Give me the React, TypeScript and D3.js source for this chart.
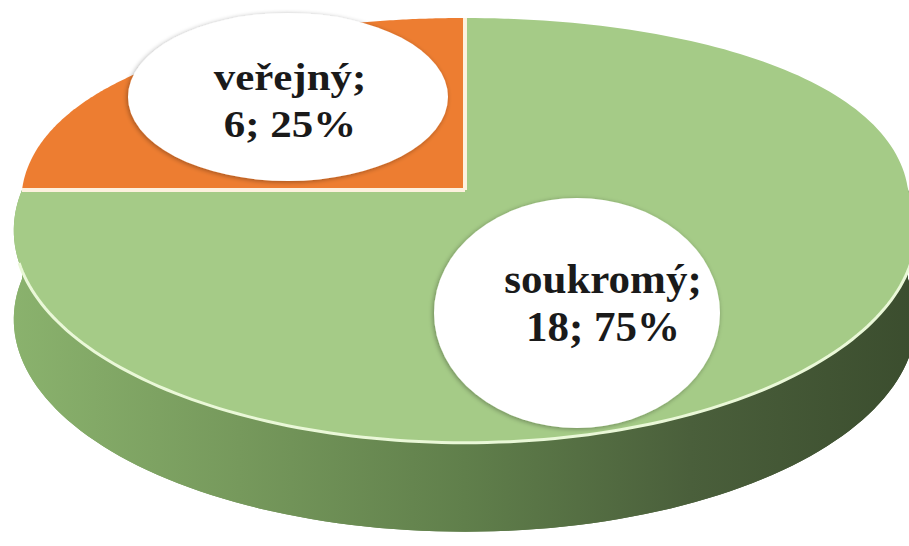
import React from "react";
import * as d3 from "d3";

const categories = ["soukromý", "veřejný"];
const values = [18, 6];
const sliceColors = ["#a5cb87", "#ed7d31"];

const W = 909;
const H = 546;
const CX = 465;
const CY = 190;
const A = 443;
const B = 204.7;
const KY = 0.19;
const KX_BACK = 0.06;
const KX_FRONT = 0.19;
const DEPTH = 89;

function proj(a: number, r = 1): [number, number] {
  const u = Math.sin(a) * r;
  const v = Math.cos(a) * r;
  const kx = v >= 0 ? KX_BACK : KX_FRONT;
  const x = CX + (A * u) / (1 + kx * v);
  const y = CY - (B * v) / (1 + KY * v);
  return [x, y];
}

function arcPts(a0: number, a1: number, dy = 0, n = 120): [number, number][] {
  const pts: [number, number][] = [];
  for (let i = 0; i <= n; i++) {
    const a = a0 + ((a1 - a0) * i) / n;
    const [x, y] = proj(a);
    pts.push([x, y + dy]);
  }
  return pts;
}

export default function App() {
  const pie = d3
    .pie<number>()
    .sort(null)
    .startAngle(0)
    .endAngle(2 * Math.PI);
  const arcs = pie(values);
  const total = d3.sum(values);
  const pct = d3.format(".0%");
  const line = d3.line();

  const frontTop = arcPts(Math.PI / 2, (3 * Math.PI) / 2);
  const frontBot = arcPts((3 * Math.PI) / 2, Math.PI / 2, DEPTH);
  const sidePath = line([...frontTop, ...frontBot]) + "Z";
  const bottomFace = line(arcPts(0, 2 * Math.PI, DEPTH, 240)) + "Z";
  const highlight = line(arcPts(Math.PI / 2 + 0.3, (3 * Math.PI) / 2 - 0.34));

  const labels = [
    { cx: 577, cy: 313, rx: 143, ry: 115, tx: 603, y1: 293, y2: 341, fs: 43, sx: 1 },
    { cx: 288, cy: 97, rx: 160, ry: 84, tx: 290, y1: 90, y2: 137, fs: 38, sx: 1.13 },
  ];

  return (
    <svg
      width={W}
      height={H}
      style={{ position: "absolute", left: 0, top: 0, display: "block", background: "#fff" }}
    >
      <defs>
        <linearGradient id="sideGrad" x1="0" x2="1" y1="0" y2="0">
          <stop offset="0%" stopColor="#8ab26d" />
          <stop offset="25%" stopColor="#76995c" />
          <stop offset="50%" stopColor="#607f4b" />
          <stop offset="75%" stopColor="#4a5f3b" />
          <stop offset="100%" stopColor="#3b4d2e" />
        </linearGradient>
        <filter id="lblShadow" x="-20%" y="-20%" width="140%" height="140%">
          <feGaussianBlur in="SourceAlpha" stdDeviation="2.5" />
          <feOffset dx="-1" dy="1" result="b" />
          <feComponentTransfer>
            <feFuncA type="linear" slope="0.35" />
          </feComponentTransfer>
          <feMerge>
            <feMergeNode />
            <feMergeNode in="SourceGraphic" />
          </feMerge>
        </filter>
      </defs>
      <path d={bottomFace} fill="url(#sideGrad)" />
      <path d={sidePath} fill="url(#sideGrad)" />
      {arcs.map((a, i) => {
        const pts = arcPts(a.startAngle, a.endAngle, 0, 200);
        const d = line([[CX, CY], ...pts]) + "Z";
        return <path key={categories[i]} d={d} fill={sliceColors[i]} />;
      })}
      <path d={highlight || ""} fill="none" stroke="#eaf8d8" strokeWidth={3} />
      {arcs.map((a) => {
        const [x, y] = proj(a.startAngle);
        return (
          <line
            key={"sep" + a.index}
            x1={CX}
            y1={CY}
            x2={x}
            y2={y}
            stroke="#fdf1de"
            strokeWidth={4}
          />
        );
      })}
      {arcs.map((a, i) => {
        const L = labels[i];
        return (
          <g key={"lbl" + i}>
            <ellipse
              cx={L.cx}
              cy={L.cy}
              rx={L.rx}
              ry={L.ry}
              fill="#ffffff"
              filter="url(#lblShadow)"
            />
            <g transform={`translate(${L.tx},0) scale(${L.sx},1)`}>
              <text
                x={0}
                y={L.y1}
                textAnchor="middle"
                fontFamily="'Liberation Serif', 'Times New Roman', serif"
                fontWeight="bold"
                fontSize={L.fs}
                fill="#1a1a1a"
              >
                {categories[i]};
              </text>
              <text
                x={0}
                y={L.y2}
                textAnchor="middle"
                fontFamily="'Liberation Serif', 'Times New Roman', serif"
                fontWeight="bold"
                fontSize={L.fs}
                fill="#1a1a1a"
              >
                {`${values[i]}; ${pct(values[i] / total)}`}
              </text>
            </g>
          </g>
        );
      })}
    </svg>
  );
}
